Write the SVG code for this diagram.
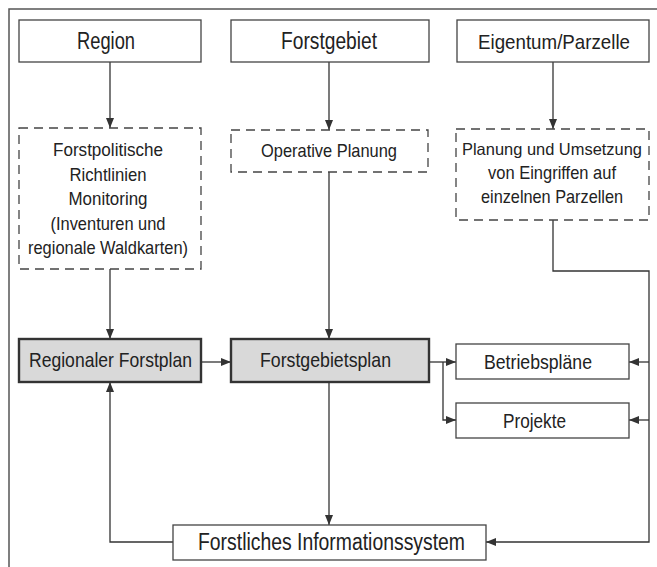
<svg xmlns="http://www.w3.org/2000/svg" width="657" height="567" viewBox="0 0 657 567">
<defs>
<marker id="ah" viewBox="0 0 10 8" refX="10" refY="4" markerWidth="10" markerHeight="8" markerUnits="userSpaceOnUse" orient="auto">
<path d="M0,0 L10,4 L0,8 Z" fill="#333"/>
</marker>
</defs>
<style>
text{font-family:"Liberation Sans",Arial,sans-serif;fill:#222;text-anchor:middle}
.box{fill:#fff;stroke:#444;stroke-width:1.3}
.dash{fill:none;stroke:#444;stroke-width:1.3;stroke-dasharray:9 6}
.main{fill:#d9d9d9;stroke:#333;stroke-width:2.4}
.t1{font-size:23px}
.t2{font-size:18.5px}
.t3{font-size:21px}
.c{fill:none;stroke:#333;stroke-width:1.3}
.a{marker-end:url(#ah)}
</style>
<rect width="657" height="567" fill="#fff"/>
<path d="M9,567 L9,9 L657,9" fill="none" stroke="#555" stroke-width="1.5"/>

<g id="connectors">
<path class="c a" d="M110,62 L110,128"/>
<path class="c a" d="M329,62 L329,130"/>
<path class="c a" d="M553,62 L553,129"/>
<path class="c a" d="M110,269 L110,339"/>
<path class="c a" d="M329,172 L329,339"/>
<path class="c a" d="M201,362 L231,362"/>
<path class="c a" d="M429,362 L456,362"/>
<path class="c a" d="M443,362 L443,420 L456,420"/>
<path class="c a" d="M329,382 L329,525"/>
<path class="c a" d="M173,542 L110,542 L110,382"/>
<path class="c a" d="M553,220 L553,271 L649,271 L649,542 L486,542"/>
<path class="c a" d="M649,362 L629,362"/>
<path class="c a" d="M649,420 L629,420"/>
</g>

<g id="region">
<rect class="box" x="19" y="20" width="182" height="42"/>
<text class="t1" x="106" y="49" textLength="58" lengthAdjust="spacingAndGlyphs">Region</text>
</g>
<g id="forstgebiet">
<rect class="box" x="231" y="20" width="198" height="42"/>
<text class="t1" x="329" y="49" textLength="96" lengthAdjust="spacingAndGlyphs">Forstgebiet</text>
</g>
<g id="eigentum">
<rect class="box" x="457" y="20" width="192" height="42"/>
<text x="554" y="49" font-size="21" textLength="152" lengthAdjust="spacingAndGlyphs">Eigentum/Parzelle</text>
</g>

<g id="forstpolitische">
<rect class="dash" x="19" y="128" width="182" height="141"/>
<text class="t2" x="108" y="156" textLength="110" lengthAdjust="spacingAndGlyphs">Forstpolitische</text>
<text class="t2" x="108" y="181" textLength="77" lengthAdjust="spacingAndGlyphs">Richtlinien</text>
<text class="t2" x="108" y="205" textLength="79" lengthAdjust="spacingAndGlyphs">Monitoring</text>
<text class="t2" x="108" y="230" textLength="115" lengthAdjust="spacingAndGlyphs">(Inventuren und</text>
<text class="t2" x="108" y="254" textLength="160" lengthAdjust="spacingAndGlyphs">regionale Waldkarten)</text>
</g>
<g id="operative">
<rect class="dash" x="231" y="130" width="197" height="42"/>
<text class="t2" x="329" y="157" textLength="136" lengthAdjust="spacingAndGlyphs">Operative Planung</text>
</g>
<g id="planung">
<rect class="dash" x="456" y="129" width="193" height="91"/>
<text x="552" y="155" font-size="16.5" textLength="180" lengthAdjust="spacingAndGlyphs">Planung und Umsetzung</text>
<text class="t2" x="552" y="179" textLength="128" lengthAdjust="spacingAndGlyphs">von Eingriffen auf</text>
<text class="t2" x="552" y="203" textLength="142" lengthAdjust="spacingAndGlyphs">einzelnen Parzellen</text>
</g>

<g id="regionaler">
<rect class="main" x="19" y="339" width="182" height="43"/>
<text class="t3" x="110.5" y="367" textLength="163" lengthAdjust="spacingAndGlyphs">Regionaler Forstplan</text>
</g>
<g id="forstgebietsplan">
<rect class="main" x="231" y="339" width="198" height="43"/>
<text class="t3" x="325.5" y="367" textLength="131" lengthAdjust="spacingAndGlyphs">Forstgebietsplan</text>
</g>
<g id="betriebsplaene">
<rect class="box" x="456" y="344" width="173" height="35"/>
<text class="t3" x="538" y="369" textLength="108" lengthAdjust="spacingAndGlyphs">Betriebspläne</text>
</g>
<g id="projekte">
<rect class="box" x="456" y="403" width="173" height="35"/>
<text class="t3" x="534.5" y="428" textLength="63" lengthAdjust="spacingAndGlyphs">Projekte</text>
</g>
<g id="informationssystem">
<rect class="box" x="173" y="525" width="313" height="35"/>
<text class="t1" x="331.5" y="550" textLength="267" lengthAdjust="spacingAndGlyphs">Forstliches Informationssystem</text>
</g>
</svg>
